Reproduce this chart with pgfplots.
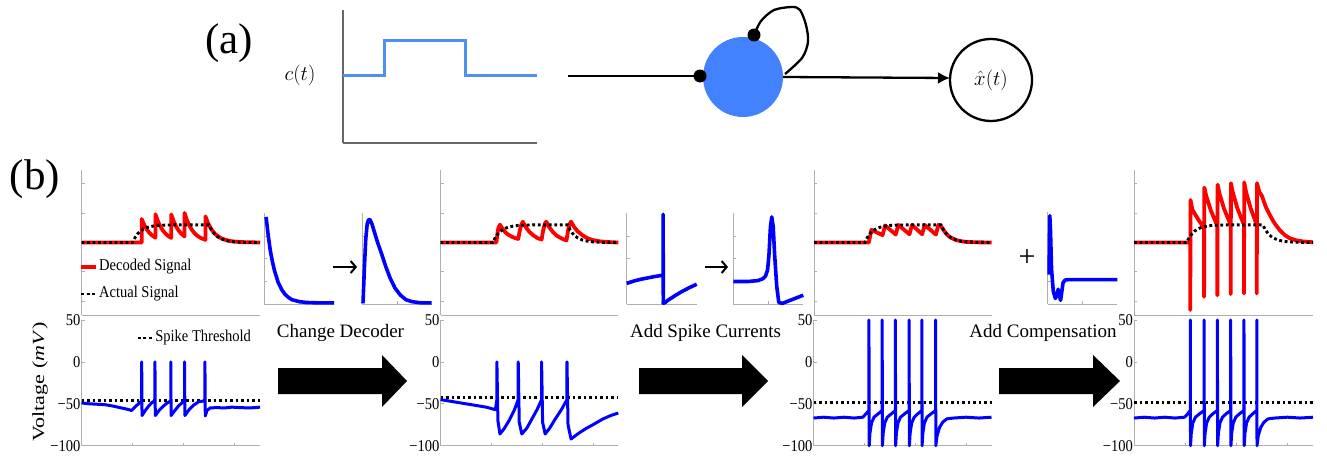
\documentclass[border=0pt]{standalone}
\usepackage{pgfplots}
\pgfplotsset{compat=1.18}
\usepackage{graphicx}
\usepackage{fontspec}
\setmainfont{Liberation Serif}
\newfontfamily\nserif{Liberation Serif}[FakeStretch=0.88]
\usetikzlibrary{arrows.meta}
\definecolor{spine}{RGB}{175,175,175}
\definecolor{cblue}{RGB}{77,145,240}
\definecolor{nblue}{RGB}{66,130,255}

\pgfplotsset{
  base/.style={scale only axis, anchor=south west, axis lines*=left, enlargelimits=false,
    axis line style={spine, line width=0.8pt}, tick style={spine, line width=0.7pt},
    tick align=inside, major tick length=3pt, xticklabels={}, yticklabels={}, clip=false},
  sig/.style={base, xmin=0, xmax=350, ymin=-2.47, ymax=2.47, height=145pt, ytick={-2,-1,0,1,2}, xtick=\empty},
  volt/.style={base, xmin=0, xmax=350, ymin=-100, ymax=50, height=125.7pt, xtick={100,200,300},
    ytick={-100,-50,0,50}, yticklabels={−100,−50,0,50},
    yticklabel style={font=\fontsize{16.5}{16.5}\nserif, inner sep=1pt}},
  kern/.style={base, xmin=0, xmax=1, ymin=0, ymax=1, height=91pt, ytick={0.25,0.5,0.75}, xtick={0.5}},
  redl/.style={red, line width=3.8pt, line join=round},
  dotl/.style={black, line width=2.9pt, dash pattern=on 2.9pt off 2.6pt},
  bluel/.style={blue, line width=3pt, line join=round},
  kblue/.style={blue, line width=3.6pt, line join=round},
  leg/.style={legend style={draw=none, fill=none, font=\fontsize{16.5}{16.5}\nserif,
      row sep=12pt, column sep=1pt, nodes={inner sep=0pt, text height=11pt, text depth=4pt}},
    legend cell align=left,
    legend image code/.code={\draw[##1] (0pt,0pt) -- (15pt,0pt);}},
}

\begin{document}
\begin{tikzpicture}
\path (0,0) rectangle (1327pt,460pt);

% ---------- background canvas in pixel coordinates ----------
\begin{axis}[at={(0pt,0pt)}, anchor=south west, scale only axis, width=1327pt, height=460pt,
  xmin=0, xmax=1327, ymin=0, ymax=460, y dir=reverse, hide axis, clip=false]
\node[font=\fontsize{43}{43}\selectfont] at (axis cs:229,43) {(a)};
\node[font=\fontsize{43}{43}\selectfont] at (axis cs:35,179) {(b)};
\node at (axis cs:300,75) {\fontsize{20}{20}\selectfont$c(t)$};
% neuron schematic
\fill[nblue] (axis cs:743,77) circle[radius=40pt];
\addplot[black, line width=2.3pt] coordinates {(568,76) (700,76)};
\addplot[black, line width=2.3pt, smooth] coordinates {(754,35) (761,21) (774,10) (792,7) (800,10) (806,25) (808,42) (802,58) (785,74)};
\fill[black] (axis cs:700,76) circle[radius=6.5pt];
\fill[black] (axis cs:754,35) circle[radius=6.5pt];
\draw[line width=2.3pt, -{Latex[length=12pt,width=12pt]}] (axis cs:783,77) -- (axis cs:950,78);
\draw[line width=2.3pt] (axis cs:991,80) circle[radius=41pt];
\node[inner sep=0pt] at (axis cs:991,80) {\fontsize{20}{20}\selectfont$\hat{x}(t)$};
% big arrows
\fill[black] (axis cs:278,368) -- (axis cs:382,368) -- (axis cs:382,355) -- (axis cs:407,381) -- (axis cs:382,407) -- (axis cs:382,394) -- (axis cs:278,394) -- cycle;
\fill[black] (axis cs:639,368) -- (axis cs:742,368) -- (axis cs:742,355) -- (axis cs:768,381) -- (axis cs:742,407) -- (axis cs:742,394) -- (axis cs:639,394) -- cycle;
\fill[black] (axis cs:999,368) -- (axis cs:1093,368) -- (axis cs:1093,355) -- (axis cs:1120,381) -- (axis cs:1093,407) -- (axis cs:1093,394) -- (axis cs:999,394) -- cycle;
\node[font=\fontsize{19}{19}\selectfont] at (axis cs:340.5,333) {Change Decoder};
\node[font=\fontsize{19}{19}\selectfont] at (axis cs:705.5,333) {Add Spike Currents};
\node[font=\fontsize{19}{19}\selectfont] at (axis cs:1043,333) {Add Compensation};
% small arrows and plus
\draw[line width=2pt, -{Straight Barb[length=5pt,width=12pt]}] (axis cs:333,267) -- (axis cs:357,267);
\draw[line width=2pt, -{Straight Barb[length=5pt,width=12pt]}] (axis cs:705,267) -- (axis cs:728,267);
\node[font=\fontsize{30}{30}\selectfont, inner sep=0pt] at (axis cs:1027,258) {+};
\node[rotate=90, font=\fontsize{17}{17}\selectfont] at (axis cs:40,382) {\scalebox{1.3}[1]{Voltage (\textit{mV})}};
\end{axis}

% ---------- (a) input signal ----------
\begin{axis}[at={(343pt,317pt)}, anchor=south west, scale only axis, width=194pt, height=133pt,
  xmin=0, xmax=10, ymin=0, ymax=1, axis lines*=left, axis line style={black!60, line width=1.2pt},
  xtick=\empty, ytick=\empty, enlargelimits=false, clip=false]
\addplot[cblue, line width=3pt] coordinates {(0,0.51) (2.16,0.51) (2.16,0.774) (6.29,0.774) (6.29,0.51) (10,0.51)};
\end{axis}

% ---------- panel 1 ----------
\begin{axis}[sig, leg, at={(81.5pt,145pt)}, width=178.5pt, legend style={at={(-0.03,0.238)}, anchor=west}]
\addplot[redl] coordinates {(0,0) (118,0) (118,0.8) (123,0.596) (128,0.444) (133,0.331) (138,0.247) (145,0.163) (145,0.963) (150,0.717) (155,0.534) (160,0.399) (165,0.297) (170,0.221) (176,0.155) (176,0.955) (181,0.711) (186,0.530) (191,0.395) (196,0.294) (202,0.207) (202,1.007) (207,0.75) (212,0.559) (217,0.417) (222,0.31) (227,0.231) (233,0.16) (243,0.09) (243,0.89) (248,0.663) (253,0.494) (258,0.368) (263,0.274) (273,0.152) (283,0.085) (293,0.047) (303,0.026) (320,0.01) (350,0)};
\addlegendentry{Decoded Signal}
\addplot[dotl] coordinates {(0,0) (100,0) (105,0.17) (110,0.292) (115,0.379) (120,0.442) (125,0.487) (130,0.519) (140,0.558) (150,0.582) (165,0.592) (180,0.6) (250,0.6) (255,0.43) (260,0.308) (265,0.221) (270,0.158) (280,0.081) (290,0.042) (300,0.021) (320,0.006) (350,0)};
\addlegendentry{Actual Signal}
\end{axis}
\begin{axis}[volt, leg, at={(81.5pt,14.3pt)}, width=178.5pt, legend style={at={(0.29,0.857)}, anchor=west}]
\addplot[dotl] coordinates {(0,-46.5) (350,-46.5)};
\addlegendentry{Spike Threshold}
\addplot[bluel, forget plot] coordinates {(0,-49) (15,-50) (30,-50.5) (45,-51) (60,-52.5) (75,-54.5) (90,-56.5) (98,-58) (108,-52) (118,-46.5) (118,0) (118.7,-64) (125,-58) (132,-52.5) (139,-48) (144,-46.5) (144,0) (144.7,-64) (152,-58) (160,-53) (168,-49) (175,-46.5) (175,0) (175.7,-64) (183,-58) (191,-52) (198,-48.5) (202,-46.5) (202,0) (202.7,-64) (211,-57) (220,-51.5) (230,-47.5) (242,-46.5) (242,0) (242.7,-64.5) (246,-58) (252,-55) (265,-54.5) (280,-55) (295,-54) (310,-54.5) (330,-55) (350,-54)};
\end{axis}

% kernels between 1 and 2
\begin{axis}[kern, at={(264pt,155.7pt)}, width=70pt]
\addplot[kblue] coordinates {(0.03,0.96) (0.06,0.757) (0.09,0.59) (0.12,0.47) (0.15,0.37) (0.2,0.245) (0.25,0.165) (0.3,0.11) (0.35,0.075) (0.4,0.05) (0.5,0.03) (0.6,0.02) (0.8,0.015) (1.0,0.015)};
\end{axis}
\begin{axis}[kern, at={(362.3pt,155.7pt)}, width=69.4pt]
\addplot[kblue] coordinates {(0.01,0.01) (0.03,0.4) (0.05,0.72) (0.07,0.88) (0.09,0.93) (0.11,0.93) (0.14,0.88) (0.18,0.78) (0.22,0.68) (0.28,0.55) (0.34,0.41) (0.40,0.29) (0.47,0.18) (0.55,0.1) (0.63,0.05) (0.71,0.03) (0.85,0.015) (1.0,0.015)};
\end{axis}

% ---------- panel 2 ----------
\begin{axis}[sig, at={(440.5pt,145pt)}, width=177.8pt]
\addplot[redl] coordinates {(0,0) (110,0) (112,0.3) (114,0.5) (117,0.61) (122,0.47) (127,0.36) (133,0.27) (140,0.2) (147,0.15) (153,0.12) (156,0.4) (159,0.6) (162,0.71) (168,0.52) (175,0.36) (183,0.24) (191,0.15) (199,0.1) (202,0.4) (205,0.62) (208,0.71) (214,0.52) (221,0.36) (229,0.23) (239,0.13) (248,0.07) (251,0.4) (254,0.62) (257,0.71) (263,0.53) (270,0.38) (280,0.24) (290,0.14) (300,0.08) (315,0.035) (335,0.01) (350,0)};
\addplot[dotl] coordinates {(0,0) (103,0) (108,0.17) (113,0.292) (118,0.379) (123,0.442) (128,0.487) (133,0.519) (143,0.558) (153,0.582) (168,0.592) (183,0.6) (250,0.6) (255,0.43) (260,0.308) (265,0.221) (270,0.158) (280,0.081) (290,0.042) (300,0.021) (320,0.006) (350,0)};
\end{axis}
\begin{axis}[volt, at={(440.5pt,14.3pt)}, width=177.8pt]
\addplot[dotl] coordinates {(0,-43) (350,-43)};
\addplot[bluel] coordinates {(0,-45) (30,-48) (60,-51) (90,-54) (108,-57) (111,-45) (111,0) (113,-70) (117,-86) (125,-80) (135,-70) (145,-58) (153,-45) (153,0) (155,-72) (160,-86) (170,-79) (180,-68) (190,-57) (199,-45) (199,0) (201,-72) (206,-86) (215,-79) (225,-69) (238,-57) (249,-45) (249,0) (251,-75) (257,-92) (270,-86) (285,-80) (300,-75) (320,-68) (335,-64) (350,-61)};
\end{axis}

% kernels between 2 and 3
\begin{axis}[kern, at={(626.7pt,155.7pt)}, width=70pt]
\addplot[kblue] coordinates {(0,0.23) (0.1,0.255) (0.2,0.275) (0.3,0.29) (0.4,0.305) (0.52,0.32) (0.52,0.99) (0.523,0.01) (0.55,0.02) (0.6,0.05) (0.7,0.1) (0.8,0.145) (0.9,0.185) (1.0,0.22)};
\end{axis}
\begin{axis}[kern, at={(733.3pt,155.7pt)}, width=70pt]
\addplot[kblue] coordinates {(0,0.25) (0.2,0.25) (0.35,0.26) (0.42,0.28) (0.46,0.31) (0.49,0.38) (0.51,0.55) (0.53,0.85) (0.55,0.96) (0.57,0.85) (0.59,0.55) (0.62,0.2) (0.65,0.02) (0.7,0.01) (0.8,0.04) (0.9,0.07) (1.0,0.1)};
\end{axis}

% ---------- panel 3 ----------
\begin{axis}[sig, at={(814pt,145pt)}, width=177.7pt]
\addplot[redl] coordinates {(0,0) (108,0) (113,0.43) (135,0.25) (140,0.58) (161,0.27) (166,0.6) (188,0.28) (193,0.6) (213,0.28) (218,0.6) (240,0.27) (245,0.6) (250,0.56) (255,0.43) (260,0.31) (265,0.22) (270,0.16) (280,0.083) (290,0.043) (300,0.022) (320,0.006) (350,0)};
\addplot[dotl] coordinates {(0,0) (100,0) (105,0.17) (110,0.292) (115,0.379) (120,0.442) (125,0.487) (130,0.519) (140,0.558) (150,0.582) (165,0.592) (180,0.6) (250,0.6) (255,0.43) (260,0.308) (265,0.221) (270,0.158) (280,0.081) (290,0.042) (300,0.021) (320,0.006) (350,0)};
\end{axis}
\begin{axis}[volt, at={(813.5pt,14.3pt)}, width=178pt]
\addplot[dotl] coordinates {(0,-48) (350,-48)};
\addplot[bluel] coordinates {(0,-67) (20,-66) (40,-67) (60,-66) (80,-67) (97,-66) (103,-62) (109,-58) (109,50) (109.5,-100) (111,-85) (114,-73) (119,-66) (127,-62) (135,-58) (135,50) (135.5,-100) (137,-85) (140,-73) (145,-66) (153,-62) (161,-58) (161,50) (161.5,-100) (163,-85) (166,-73) (171,-66) (179,-62) (188,-58) (188,50) (188.5,-100) (190,-85) (193,-73) (198,-66) (205,-62) (213,-58) (213,50) (213.5,-100) (215,-85) (218,-73) (223,-66) (231,-62) (240,-58) (240,50) (240.5,-100) (243,-88) (248,-78) (254,-72) (262,-68) (275,-67) (300,-66) (325,-67) (350,-66)};
\end{axis}

% compensation kernel
\begin{axis}[kern, at={(1047.7pt,156pt)}, width=69.6pt, height=92pt]
\addplot[kblue] coordinates {(0.02,0.32) (0.025,0.7) (0.03,0.96) (0.04,0.8) (0.055,0.38) (0.08,0.14) (0.11,0.06) (0.13,0.09) (0.15,0.16) (0.17,0.08) (0.185,0.04) (0.2,0.12) (0.22,0.23) (0.25,0.26) (0.3,0.265) (1.0,0.265)};
\end{axis}

% ---------- panel 4 ----------
\begin{axis}[sig, at={(1134pt,145pt)}, width=179pt]
\addplot[redl] coordinates {(0,0) (110,0) (110,-2.3) (110.5,1.45) (114,1.12) (125,0.8) (137,0.49) (137,-1.85) (137.5,1.87) (141,1.6) (150,1.1) (163,0.56) (163,-1.8) (163.5,1.97) (167,1.68) (176,1.15) (189,0.6) (189,-1.76) (189.5,2.02) (193,1.72) (202,1.17) (215,0.6) (215,-1.74) (215.5,2.05) (219,1.72) (228,1.17) (240,0.6) (240,-1.74) (240.5,2.02) (245,1.72) (250,1.59) (258,1.2) (266,0.92) (275,0.65) (285,0.42) (295,0.25) (305,0.14) (318,0.07) (331,0.035) (350,0.01)};
\addplot[dotl] coordinates {(0,0) (103,0) (108,0.17) (113,0.292) (118,0.379) (123,0.442) (128,0.487) (133,0.519) (143,0.558) (153,0.582) (168,0.592) (183,0.6) (252,0.6) (257,0.43) (262,0.308) (267,0.221) (272,0.158) (282,0.081) (292,0.042) (302,0.021) (322,0.006) (350,0)};
\end{axis}
\begin{axis}[volt, at={(1134pt,14.3pt)}, width=179pt]
\addplot[dotl] coordinates {(0,-48) (350,-48)};
\addplot[bluel] coordinates {(0,-67) (20,-66) (40,-67) (60,-66) (80,-67) (99,-66) (105,-62) (110,-58) (110,50) (110.5,-100) (112,-85) (115,-73) (120,-66) (128,-62) (137,-58) (137,50) (137.5,-100) (139,-85) (142,-73) (147,-66) (154,-62) (163,-58) (163,50) (163.5,-100) (165,-85) (168,-73) (173,-66) (180,-62) (189,-58) (189,50) (189.5,-100) (191,-85) (194,-73) (199,-66) (206,-62) (215,-58) (215,50) (215.5,-100) (217,-85) (220,-73) (225,-66) (232,-62) (240,-58) (240,50) (240.5,-100) (243,-88) (248,-78) (254,-72) (262,-68) (275,-67) (300,-66) (325,-67) (350,-66)};
\end{axis}
\end{tikzpicture}
\end{document}
